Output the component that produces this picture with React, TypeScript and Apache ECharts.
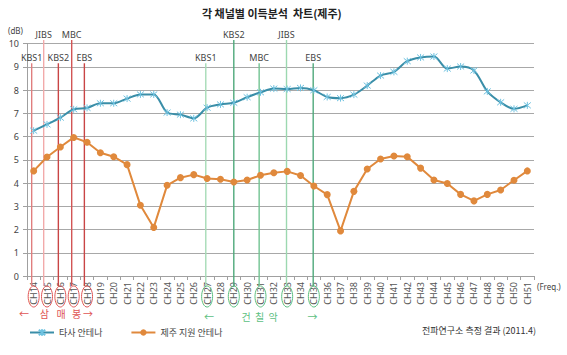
import React, { useEffect, useRef } from "react";
import * as echarts from "echarts";

const categories = [
  "CH14","CH15","CH16","CH17","CH18","CH19","CH20","CH21","CH22","CH23",
  "CH24","CH25","CH26","CH27","CH28","CH29","CH30","CH31","CH32","CH33",
  "CH34","CH35","CH36","CH37","CH38","CH39","CH40","CH41","CH42","CH43",
  "CH44","CH45","CH46","CH47","CH48","CH49","CH50","CH51",
];

const otherAntenna = [
  6.25, 6.52, 6.81, 7.17, 7.23, 7.43, 7.43, 7.63, 7.81, 7.81,
  7.03, 6.94, 6.78, 7.24, 7.38, 7.45, 7.69, 7.9, 8.06, 8.04,
  8.09, 7.99, 7.7, 7.65, 7.8, 8.19, 8.62, 8.78, 9.24, 9.4,
  9.44, 8.92, 9.01, 8.84, 7.94, 7.47, 7.19, 7.34,
];

const jejuAntenna = [
  4.52, 5.12, 5.55, 5.96, 5.75, 5.3, 5.13, 4.79, 3.04, 2.09,
  3.9, 4.23, 4.36, 4.19, 4.16, 4.04, 4.13, 4.33, 4.44, 4.5,
  4.32, 3.87, 3.5, 1.94, 3.64, 4.6, 5.03, 5.16, 5.13, 4.64,
  4.13, 3.98, 3.51, 3.23, 3.51, 3.7, 4.12, 4.52,
];

// broadcast station markers (position on channel axis, in channel units)
const markerNames = ["KBS1", "JIBS", "KBS2", "MBC", "EBS", "KBS1", "KBS2", "MBC", "JIBS", "EBS"];
const markerPos = [0.35, 1.25, 2.35, 3.35, 4.3, 13.4, 15.5, 17.4, 19.45, 21.45];
const markerTop = [9.15, 10.15, 9.15, 10.15, 9.15, 9.15, 10.15, 9.15, 10.15, 9.15];
const markerChannel = ["CH14", "CH15", "CH16", "CH17", "CH18", "CH27", "CH29", "CH31", "CH33", "CH35"];
const markerColors = [
  "#e07e7e", "#f2aaaa", "#c94545", "#d25555", "#c94545",
  "#a6dcb6", "#4fa97b", "#72c492", "#9cd8b0", "#4fa97b",
];
const ellipseColors = [
  "#e05555", "#e05555", "#e05555", "#e05555", "#e05555",
  "#5cc07f", "#5cc07f", "#5cc07f", "#5cc07f", "#5cc07f",
];

// transmitter site annotations under the axis
const siteTexts = ["←", "삼", "매", "봉", "→", "←", "건", "칠", "악", "→"];
const siteX = [24, 44.3, 61, 76.7, 88, 209, 246, 259.5, 273, 312.5];
const siteY = [313.7, 313.7, 313.7, 313.7, 313.7, 316.5, 316.5, 316.5, 316.5, 316.5];
const siteColors = [
  "#e05555", "#e05555", "#e05555", "#e05555", "#e05555",
  "#5cc07f", "#5cc07f", "#5cc07f", "#5cc07f", "#5cc07f",
];

const FONT = "'Noto Sans', 'Noto Sans CJK KR', sans-serif";
const KFONT = "'Noto Sans CJK KR', 'Noto Sans', sans-serif";

export default function App() {
  const ref = useRef<HTMLDivElement>(null);

  useEffect(() => {
    if (!ref.current) return;
    const chart = echarts.init(ref.current, null, { renderer: "svg" });

    const starPath = "path://M0,0L10,10M10,0L0,10M5,-1L5,11";

    const siteGraphics = siteTexts.map((t, i) => ({
      type: "text",
      x: siteX[i],
      y: siteY[i],
      style: {
        text: t,
        fontSize: 10,
        fill: siteColors[i],
        fontFamily: KFONT,
        align: "center",
        verticalAlign: "middle",
        textAlign: "center",
        textVerticalAlign: "middle",
      },
    }));

    const option: any = {
      animation: false,
      backgroundColor: "#ffffff",
      textStyle: { fontFamily: FONT },
      title: {
        text: "각 채널별 이득분석  차트(제주)",
        left: 197,
        top: 2,
        textStyle: { fontSize: 11, fontWeight: "bold", color: "#222", fontFamily: KFONT },
      },
      legend: {
        left: 24,
        top: 323,
        itemWidth: 24,
        itemHeight: 8,
        itemGap: 28,
        textStyle: { fontSize: 9, color: "#444", fontFamily: KFONT },
        data: ["타사 안테나", "제주 지원 안테나"],
      },
      grid: { left: 27, right: 33, top: 43.5, bottom: 79 },
      xAxis: [
        {
          type: "category",
          data: categories,
          boundaryGap: true,
          axisLine: { lineStyle: { color: "#a0a0a0" } },
          axisTick: { show: true, length: 4, lineStyle: { color: "#a0a0a0" } },
          axisLabel: { rotate: 90, fontSize: 9, color: "#555", margin: 6, interval: 0 },
        },
        { type: "value", min: 0, max: 38, show: false },
      ],
      yAxis: {
        type: "value",
        min: 0,
        max: 10,
        interval: 1,
        axisLine: { show: true, lineStyle: { color: "#a0a0a0" } },
        axisTick: { show: true, length: 4, lineStyle: { color: "#a0a0a0" } },
        axisLabel: { fontSize: 9, color: "#444", margin: 8 },
        splitLine: { lineStyle: { color: "#a8a8a8", width: 1 } },
      },
      graphic: [
        { type: "text", left: 8, top: 26, style: { text: "(dB)", fontSize: 8, fill: "#444", fontFamily: FONT } },
        { type: "text", left: 537, top: 282, style: { text: "(Freq.)", fontSize: 8, fill: "#444", fontFamily: FONT } },
        ...siteGraphics,
        { type: "text", left: 422, top: 326, style: { text: "전파연구소 측정 결과 (2011.4)", fontSize: 9, fill: "#333", fontFamily: KFONT } },
      ],
      series: [
        {
          type: "custom",
          xAxisIndex: 1,
          yAxisIndex: 0,
          clip: false,
          z: 1,
          silent: true,
          data: markerPos.map((p, i) => [p, markerTop[i]]),
          renderItem: (params: any, api: any) => {
            const i = params.dataIndex;
            const top = api.coord([api.value(0), api.value(1)]);
            const base = api.coord([api.value(0), 0]);
            const chIdx = categories.indexOf(markerChannel[i]);
            const ell = api.coord([chIdx + 0.5, 0]);
            return {
              type: "group",
              children: [
                {
                  type: "line",
                  shape: { x1: top[0], y1: top[1], x2: base[0], y2: base[1] + 10 },
                  style: { stroke: markerColors[i], lineWidth: 1.4 },
                },
                {
                  type: "text",
                  x: top[0],
                  y: top[1] - 6,
                  style: {
                    text: markerNames[i],
                    fill: "#444",
                    font: "9px " + FONT,
                    align: "center",
                    verticalAlign: "middle",
                    textAlign: "center",
                    textVerticalAlign: "middle",
                  },
                },
                {
                  type: "ellipse",
                  shape: { cx: ell[0], cy: base[1] + 20.5, rx: 5.5, ry: 10.5 },
                  style: { fill: "none", stroke: ellipseColors[i], lineWidth: 1 },
                },
              ],
            };
          },
        },
        {
          name: "타사 안테나",
          type: "line",
          data: otherAntenna,
          smooth: 0.3,
          z: 3,
          symbol: starPath,
          symbolSize: 7,
          lineStyle: { color: "#3a8ea8", width: 2 },
          itemStyle: { color: "#6fc2e0", borderColor: "#6fc2e0", borderWidth: 1 },
        },
        {
          name: "제주 지원 안테나",
          type: "line",
          data: jejuAntenna,
          z: 3,
          symbol: "circle",
          symbolSize: 7,
          lineStyle: { color: "#e0893c", width: 2 },
          itemStyle: { color: "#e0893c" },
        },
      ],
    };

    chart.setOption(option);
    return () => chart.dispose();
  }, []);

  return (
    <div
      ref={ref}
      style={{ position: "fixed", left: 0, top: 0, width: 567, height: 355, background: "#fff" }}
    />
  );
}
